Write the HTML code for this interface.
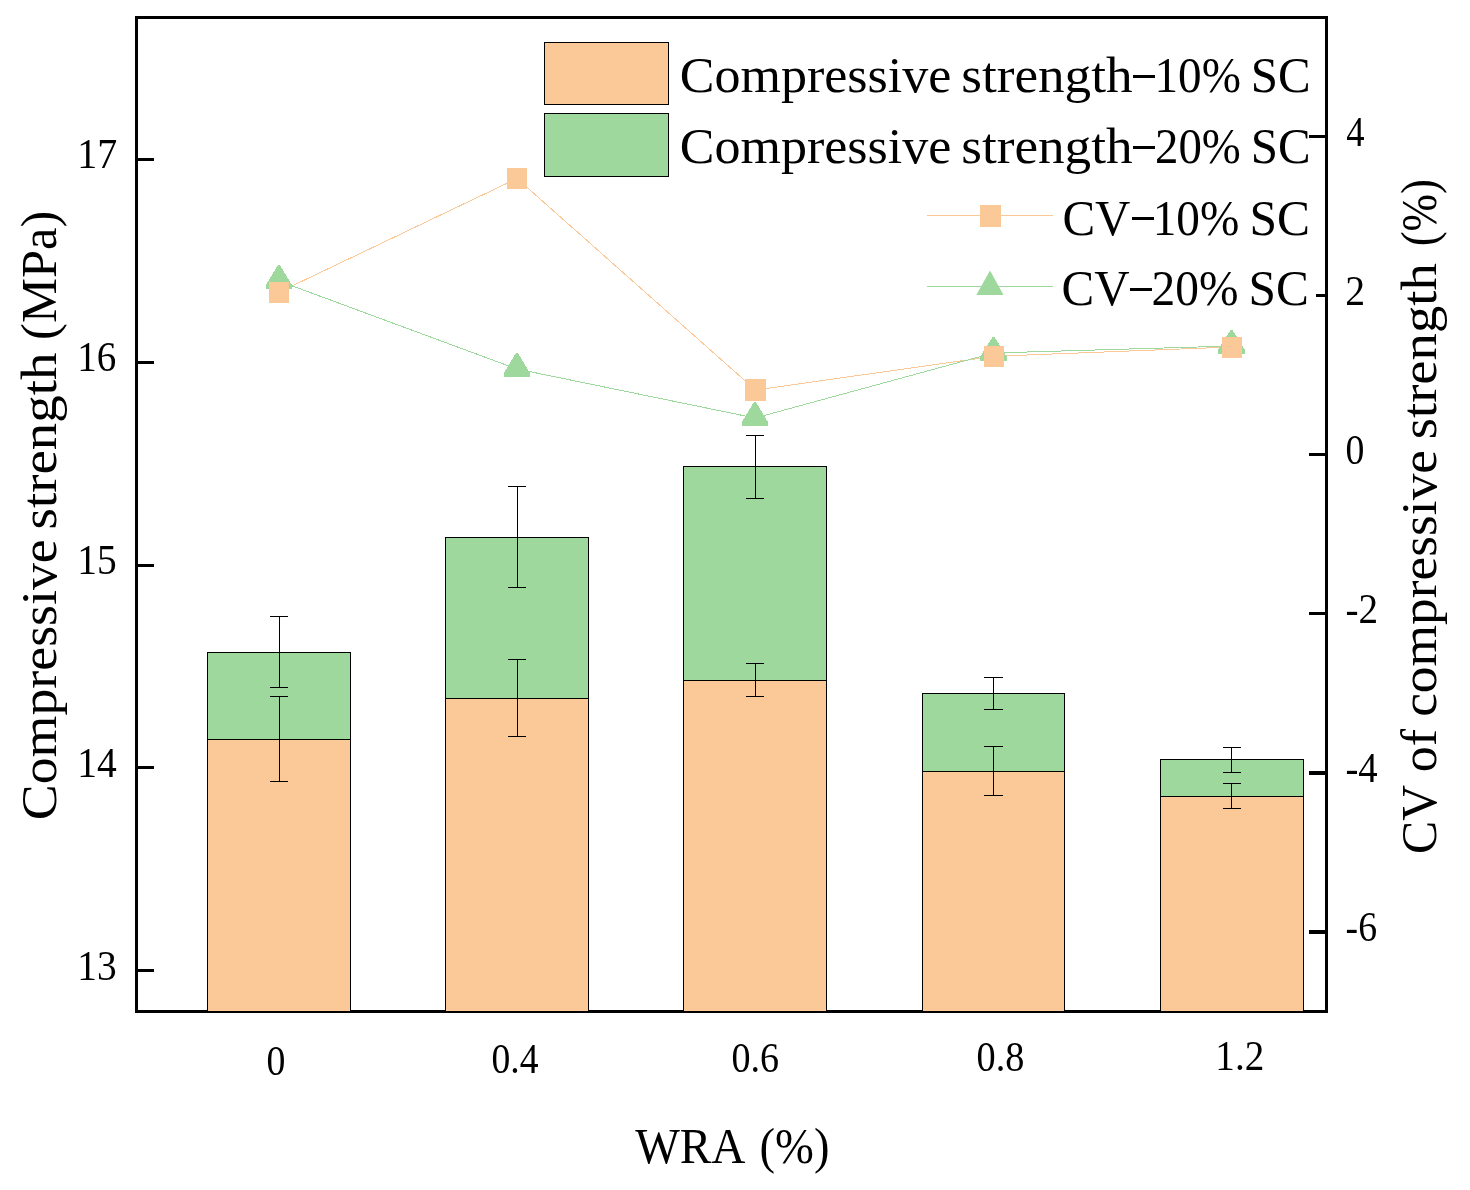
<!DOCTYPE html>
<html><head><meta charset="utf-8"><style>
html,body{margin:0;padding:0;background:#fff;width:1470px;height:1190px;overflow:hidden;font-family:"Liberation Serif",serif;}
svg{display:block;will-change:transform;}
</style></head><body>
<svg width="1470" height="1190" viewBox="0 0 1470 1190">
<rect width="1470" height="1190" fill="#fff"/>
<rect x="136.5" y="17.5" width="1190" height="994" fill="none" stroke="#000" stroke-width="3"/>
<rect x="138" y="158.0" width="16" height="3" fill="#000"/>
<rect x="138" y="361.0" width="16" height="3" fill="#000"/>
<rect x="138" y="564.0" width="16" height="3" fill="#000"/>
<rect x="138" y="766.0" width="16" height="3" fill="#000"/>
<rect x="138" y="969.0" width="16" height="3" fill="#000"/>
<rect x="1309" y="135" width="16" height="3" fill="#000"/>
<rect x="1316" y="294" width="9" height="3" fill="#000"/>
<rect x="1309" y="453" width="16" height="3" fill="#000"/>
<rect x="1309" y="612" width="16" height="3" fill="#000"/>
<rect x="1309" y="771" width="16" height="4" fill="#000"/>
<rect x="1309" y="930" width="16" height="4" fill="#000"/>
<rect x="207.5" y="739.5" width="143.0" height="272.0" fill="#FBC897" stroke="#000" stroke-width="1"/>
<rect x="207.5" y="652.5" width="143.0" height="87.0" fill="#9ED89D" stroke="#000" stroke-width="1"/>
<rect x="445.5" y="698.5" width="143.0" height="313.0" fill="#FBC897" stroke="#000" stroke-width="1"/>
<rect x="445.5" y="537.5" width="143.0" height="161.0" fill="#9ED89D" stroke="#000" stroke-width="1"/>
<rect x="683.5" y="680.5" width="143.0" height="331.0" fill="#FBC897" stroke="#000" stroke-width="1"/>
<rect x="683.5" y="466.5" width="143.0" height="214.0" fill="#9ED89D" stroke="#000" stroke-width="1"/>
<rect x="922.5" y="771.5" width="142.0" height="240.0" fill="#FBC897" stroke="#000" stroke-width="1"/>
<rect x="922.5" y="693.5" width="142.0" height="78.0" fill="#9ED89D" stroke="#000" stroke-width="1"/>
<rect x="1160.5" y="796.5" width="143.0" height="215.0" fill="#FBC897" stroke="#000" stroke-width="1"/>
<rect x="1160.5" y="759.5" width="143.0" height="37.0" fill="#9ED89D" stroke="#000" stroke-width="1"/>
<path d="M279.5 616.5V687.5M270 616.5H288M270 687.5H288" stroke="#000" stroke-width="1" fill="none"/>
<path d="M279.5 696.5V781.5M270 696.5H288M270 781.5H288" stroke="#000" stroke-width="1" fill="none"/>
<path d="M517.5 486.5V587.5M508 486.5H526M508 587.5H526" stroke="#000" stroke-width="1" fill="none"/>
<path d="M517.5 659.5V736.5M508 659.5H526M508 736.5H526" stroke="#000" stroke-width="1" fill="none"/>
<path d="M755.5 435.5V498.5M746 435.5H764M746 498.5H764" stroke="#000" stroke-width="1" fill="none"/>
<path d="M755.5 663.5V696.5M746 663.5H764M746 696.5H764" stroke="#000" stroke-width="1" fill="none"/>
<path d="M993.5 677.5V709.5M984 677.5H1003M984 709.5H1003" stroke="#000" stroke-width="1" fill="none"/>
<path d="M993.5 746.5V795.5M984 746.5H1003M984 795.5H1003" stroke="#000" stroke-width="1" fill="none"/>
<path d="M1231.5 747.5V772.5M1223 747.5H1241M1223 772.5H1241" stroke="#000" stroke-width="1" fill="none"/>
<path d="M1231.5 783.5V808.5M1223 783.5H1241M1223 808.5H1241" stroke="#000" stroke-width="1" fill="none"/>
<polyline points="279.00,292.2 517.00,178.5 755.50,390 993.75,356.3 1232.00,347.0" fill="none" stroke="#FBC897" stroke-width="1" shape-rendering="crispEdges"/>
<polyline points="279.00,281 517.00,369 755.00,418 993.50,353 1231.80,346" fill="none" stroke="#9ED89D" stroke-width="1" shape-rendering="crispEdges"/>
<polygon points="278.00,265.00 280.00,265.00 292.00,285.00 292.00,289.00 266.00,289.00 266.00,285.00" fill="#9ED89D" shape-rendering="crispEdges"/>
<polygon points="516.00,353.00 518.00,353.00 530.00,373.00 530.00,377.00 504.00,377.00 504.00,373.00" fill="#9ED89D" shape-rendering="crispEdges"/>
<polygon points="754.00,402.00 756.00,402.00 768.00,422.00 768.00,426.00 742.00,426.00 742.00,422.00" fill="#9ED89D" shape-rendering="crispEdges"/>
<polygon points="992.50,337.00 994.50,337.00 1007.00,357.00 1007.00,361.00 980.00,361.00 980.00,357.00" fill="#9ED89D" shape-rendering="crispEdges"/>
<polygon points="1230.50,330.00 1232.50,330.00 1245.00,350.00 1245.00,354.00 1218.00,354.00 1218.00,350.00" fill="#9ED89D" shape-rendering="crispEdges"/>
<rect x="269" y="282" width="20" height="21" fill="#FBC897"/>
<rect x="507" y="168" width="20" height="21" fill="#FBC897"/>
<rect x="745" y="379" width="21" height="22" fill="#FBC897"/>
<rect x="984" y="346" width="20" height="21" fill="#FBC897"/>
<rect x="1222" y="337" width="20" height="21" fill="#FBC897"/>
<g font-family="Liberation Serif, serif" fill="#000" style="font-kerning:none">
<text x="77.19" y="168.00" font-size="42" textLength="39.96" lengthAdjust="spacingAndGlyphs">17</text>
<text x="77.27" y="370.70" font-size="42" textLength="38.99" lengthAdjust="spacingAndGlyphs">16</text>
<text x="77.24" y="573.80" font-size="42" textLength="39.40" lengthAdjust="spacingAndGlyphs">15</text>
<text x="77.23" y="777.00" font-size="42" textLength="39.49" lengthAdjust="spacingAndGlyphs">14</text>
<text x="77.24" y="979.80" font-size="42" textLength="39.40" lengthAdjust="spacingAndGlyphs">13</text>
<text x="1346.19" y="145.90" font-size="42" textLength="18.29" lengthAdjust="spacingAndGlyphs">4</text>
<text x="1345.26" y="304.80" font-size="42" textLength="19.83" lengthAdjust="spacingAndGlyphs">2</text>
<text x="1345.46" y="463.50" font-size="42" textLength="18.88" lengthAdjust="spacingAndGlyphs">0</text>
<text x="1345.55" y="622.90" font-size="42" textLength="32.61" lengthAdjust="spacingAndGlyphs">-2</text>
<text x="1345.46" y="782.00" font-size="42" textLength="32.24" lengthAdjust="spacingAndGlyphs">-4</text>
<text x="1345.60" y="940.50" font-size="42" textLength="31.42" lengthAdjust="spacingAndGlyphs">-6</text>
<text x="266.56" y="1074.50" font-size="42" textLength="18.88" lengthAdjust="spacingAndGlyphs">0</text>
<text x="491.47" y="1072.80" font-size="42" textLength="47.02" lengthAdjust="spacingAndGlyphs">0.4</text>
<text x="731.45" y="1071.70" font-size="42" textLength="47.58" lengthAdjust="spacingAndGlyphs">0.6</text>
<text x="976.54" y="1070.60" font-size="42" textLength="47.81" lengthAdjust="spacingAndGlyphs">0.8</text>
<text x="1215.36" y="1069.90" font-size="42" textLength="48.90" lengthAdjust="spacingAndGlyphs">1.2</text>
<text x="679.87" y="92.20" font-size="50" textLength="271.43" lengthAdjust="spacingAndGlyphs">Compressive</text>
<text x="961.22" y="92.20" font-size="50" textLength="171.28" lengthAdjust="spacingAndGlyphs">strength</text>
<text x="1154.56" y="92.20" font-size="50" textLength="86.35" lengthAdjust="spacingAndGlyphs">10%</text>
<text x="1250.83" y="92.20" font-size="50" textLength="59.88" lengthAdjust="spacingAndGlyphs">SC</text>
<text x="679.87" y="163.20" font-size="50" textLength="271.43" lengthAdjust="spacingAndGlyphs">Compressive</text>
<text x="961.22" y="163.20" font-size="50" textLength="171.28" lengthAdjust="spacingAndGlyphs">strength</text>
<text x="1155.04" y="163.20" font-size="50" textLength="85.86" lengthAdjust="spacingAndGlyphs">20%</text>
<text x="1250.83" y="163.20" font-size="50" textLength="59.88" lengthAdjust="spacingAndGlyphs">SC</text>
<text x="1062.39" y="234.60" font-size="50" textLength="68.06" lengthAdjust="spacingAndGlyphs">CV</text>
<text x="1152.74" y="234.60" font-size="50" textLength="86.67" lengthAdjust="spacingAndGlyphs">10%</text>
<text x="1249.49" y="234.60" font-size="50" textLength="60.54" lengthAdjust="spacingAndGlyphs">SC</text>
<text x="1061.49" y="305.30" font-size="50" textLength="68.06" lengthAdjust="spacingAndGlyphs">CV</text>
<text x="1151.62" y="305.30" font-size="50" textLength="86.90" lengthAdjust="spacingAndGlyphs">20%</text>
<text x="1248.60" y="305.30" font-size="50" textLength="60.32" lengthAdjust="spacingAndGlyphs">SC</text>
<rect x="1133" y="75" width="22" height="3" fill="#000"/>
<rect x="1133" y="146" width="22" height="3" fill="#000"/>
<rect x="1132" y="217" width="22" height="3" fill="#000"/>
<rect x="1130" y="288" width="22" height="3" fill="#000"/>
<text x="635.15" y="1163.20" font-size="50" textLength="110.39" lengthAdjust="spacingAndGlyphs">WRA</text>
<text x="759.55" y="1163.20" font-size="50" textLength="69.90" lengthAdjust="spacingAndGlyphs">(%)</text>
<text transform="translate(56 820.21) rotate(-90)" x="0" y="0" font-size="50" textLength="280.97" lengthAdjust="spacingAndGlyphs">Compressive</text>
<text transform="translate(56 529.45) rotate(-90)" x="0" y="0" font-size="50" textLength="176.77" lengthAdjust="spacingAndGlyphs">strength</text>
<text transform="translate(56 339.92) rotate(-90)" x="0" y="0" font-size="50" textLength="129.25" lengthAdjust="spacingAndGlyphs">(MPa)</text>
<text transform="translate(1436 853.94) rotate(-90)" x="0" y="0" font-size="50" textLength="69.10" lengthAdjust="spacingAndGlyphs">CV</text>
<text transform="translate(1436 772.28) rotate(-90)" x="0" y="0" font-size="50" textLength="43.38" lengthAdjust="spacingAndGlyphs">of</text>
<text transform="translate(1436 716.83) rotate(-90)" x="0" y="0" font-size="50" textLength="266.88" lengthAdjust="spacingAndGlyphs">compressive</text>
<text transform="translate(1436 439.34) rotate(-90)" x="0" y="0" font-size="50" textLength="176.16" lengthAdjust="spacingAndGlyphs">strength</text>
<text transform="translate(1436 246.37) rotate(-90)" x="0" y="0" font-size="50" textLength="67.35" lengthAdjust="spacingAndGlyphs">(%)</text>
</g>
<rect x="544.5" y="42.5" width="124" height="62" fill="#FBC897" stroke="#000" stroke-width="1"/>
<rect x="544.5" y="113.5" width="124" height="63" fill="#9ED89D" stroke="#000" stroke-width="1"/>
<rect x="927" y="215" width="126" height="1" fill="#FBC897"/>
<rect x="980" y="205" width="21" height="22" fill="#FBC897"/>
<rect x="927" y="286" width="126" height="1" fill="#9ED89D"/>
<path d="M990 270.5L1003.5 295L976.3 295Z" fill="#9ED89D"/>
</svg>
</body></html>
